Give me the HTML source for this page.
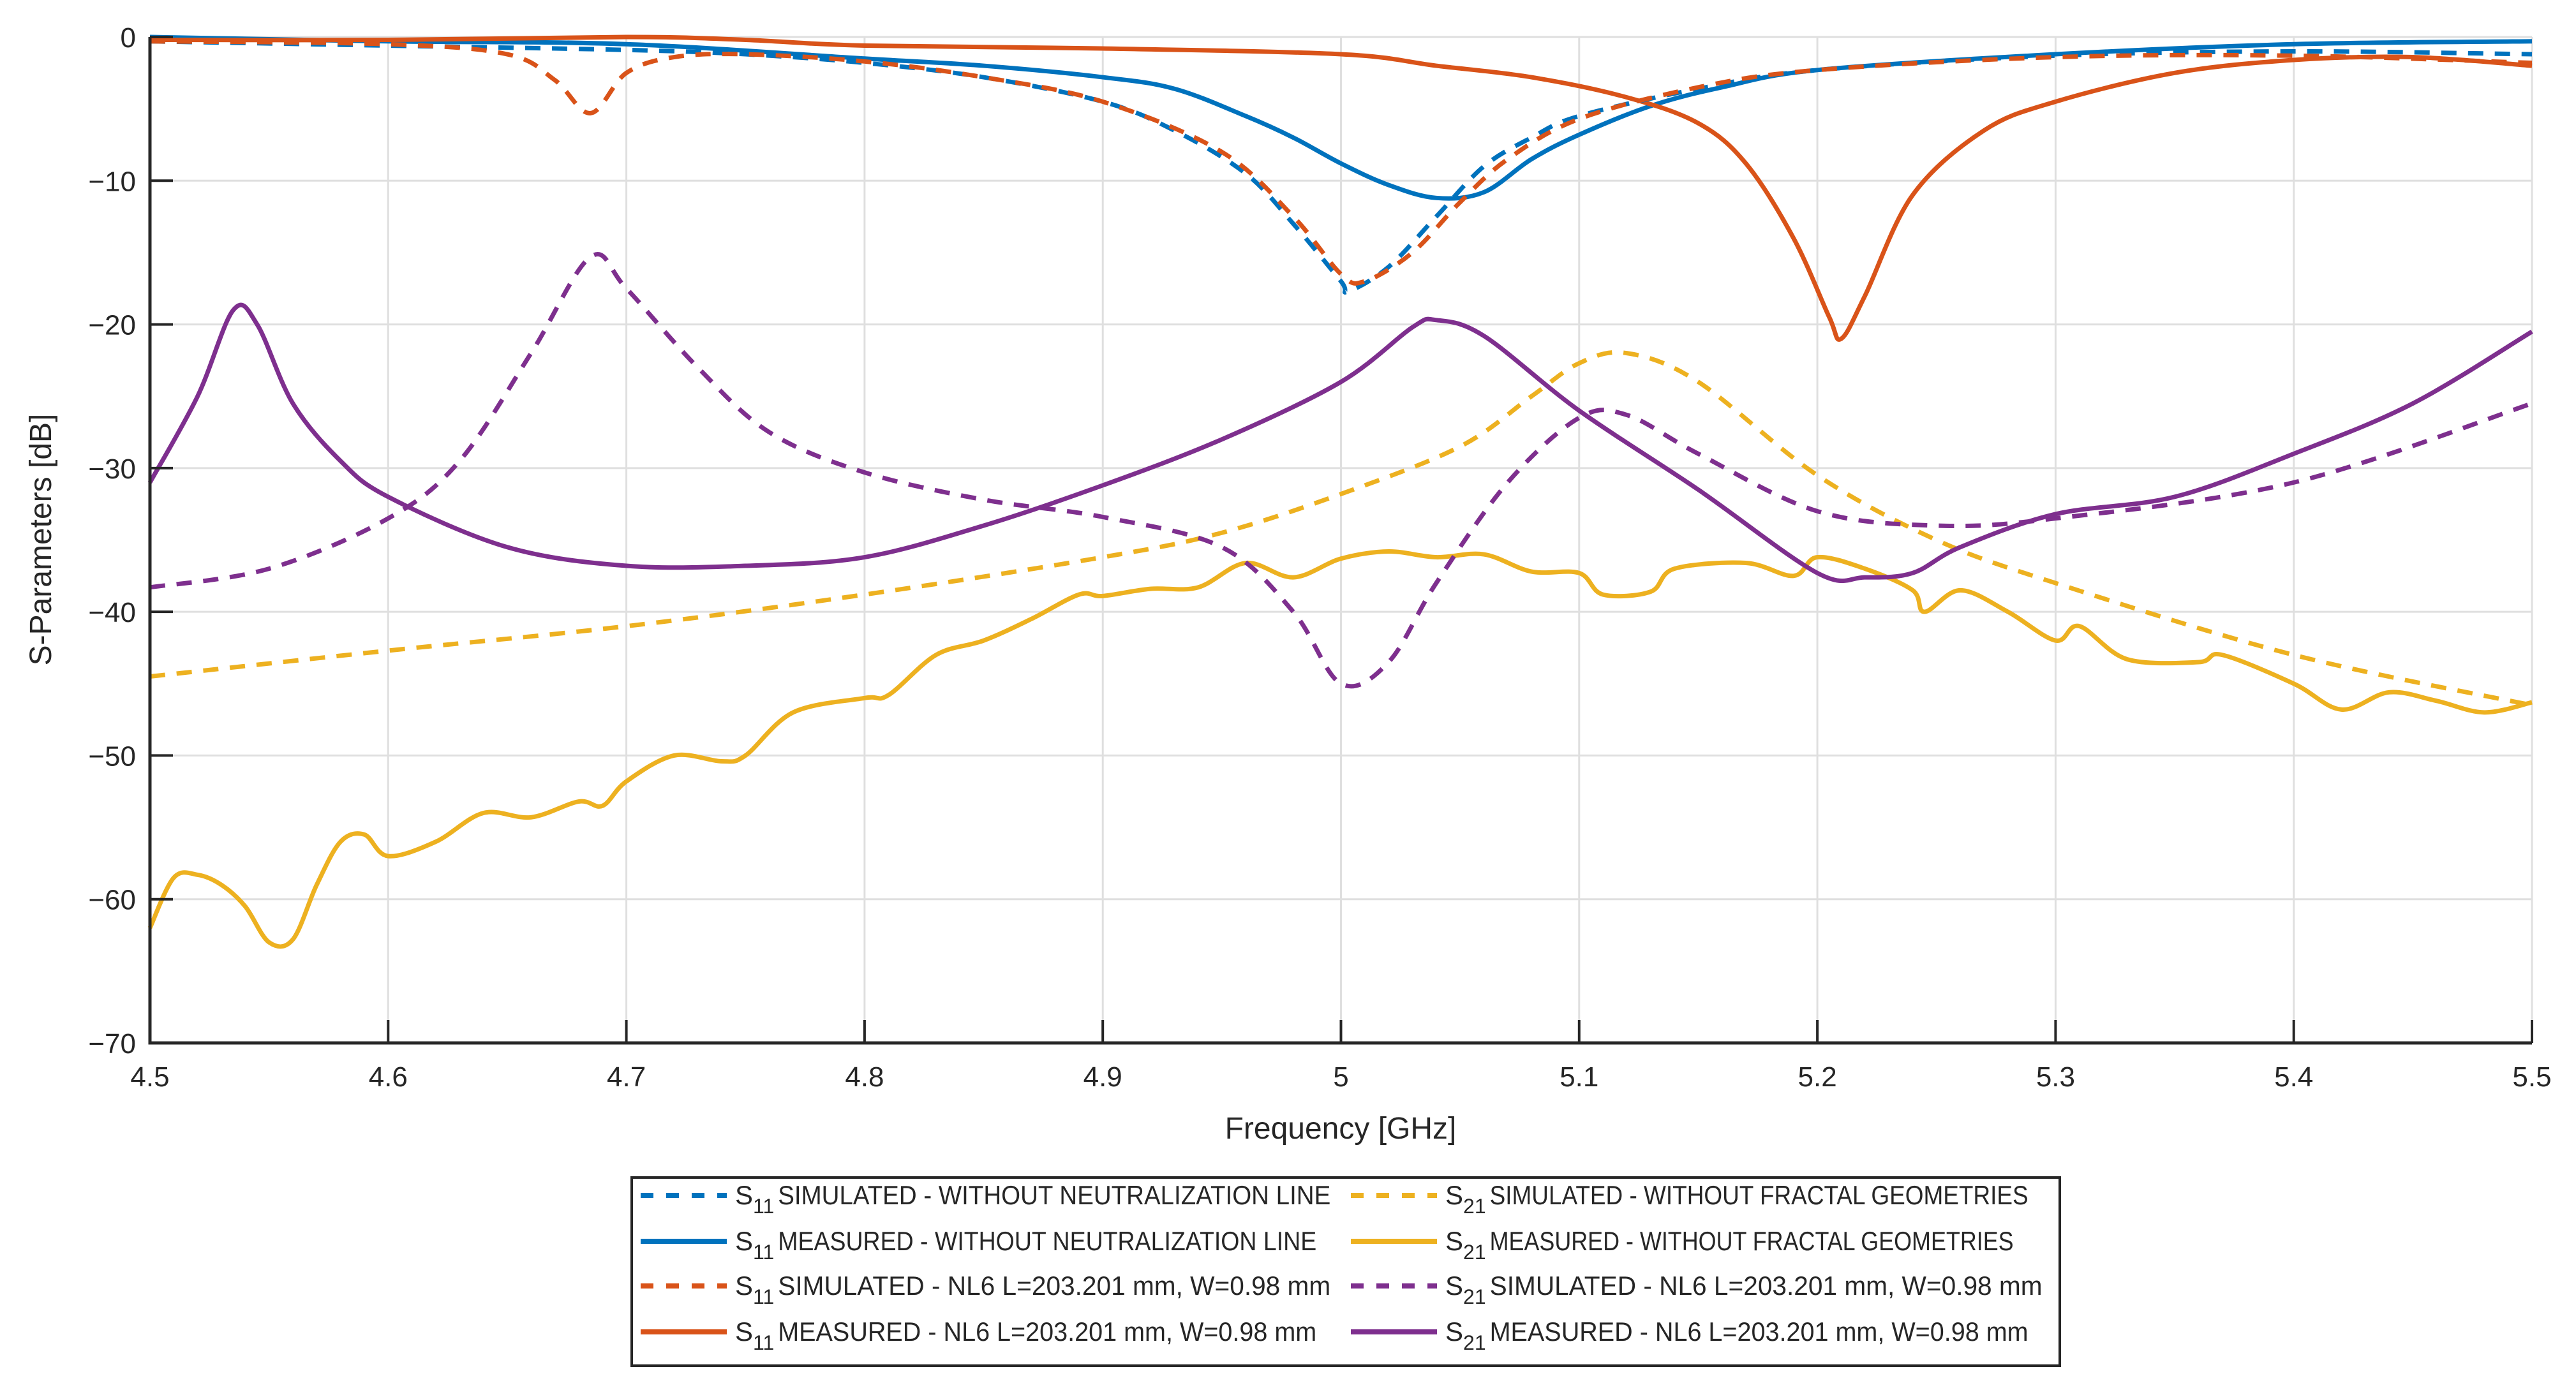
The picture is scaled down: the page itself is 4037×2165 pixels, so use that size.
<!DOCTYPE html>
<html><head><meta charset="utf-8"><style>
html,body{margin:0;padding:0;background:#fff}
svg{display:block}
text{font-family:"Liberation Sans",sans-serif;fill:#262626}
</style></head><body>
<svg id="chart" width="4037" height="2165" viewBox="0 0 4037 2165" xmlns="http://www.w3.org/2000/svg">
<g id="grid"></g>
<g id="series"></g>
<g id="axes"></g>
<text x="2101" y="1785" font-size="48" text-anchor="middle">Frequency [GHz]</text>
<text transform="translate(80,846) rotate(-90)" font-size="48" text-anchor="middle">S-Parameters [dB]</text>
<g id="legend"></g>
</svg>
<script>
const xTicks=[4.5,4.6,4.7,4.8,4.9,5,5.1,5.2,5.3,5.4,5.5];
const xTickLabels=["4.5","4.6","4.7","4.8","4.9","5","5.1","5.2","5.3","5.4","5.5"];
const yTicks=[0,-10,-20,-30,-40,-50,-60,-70];
const yTickLabels=["0","\u221210","\u221220","\u221230","\u221240","\u221250","\u221260","\u221270"];

const s11SimNoNlF=[4.5,4.6,4.7,4.75,4.8,4.85,4.9,4.93,4.96,4.98,5.0,5.003,5.02,5.04,5.06,5.08,5.1,5.15,5.2,5.3,5.4,5.5];
const s11SimNoNlV=[-0.3,-0.6,-0.9,-1.2,-1.8,-2.8,-4.5,-6.5,-9.5,-13,-17,-17.7,-16,-12.5,-9,-7,-5.5,-3.6,-2.3,-1.3,-1.0,-1.2];
const s11MeasNoNlF=[4.5,4.6,4.7,4.8,4.85,4.9,4.93,4.96,4.98,5.0,5.02,5.04,5.06,5.08,5.1,5.13,5.16,5.2,5.3,5.4,5.5];
const s11MeasNoNlV=[0,-0.3,-0.5,-1.5,-2,-2.8,-3.6,-5.5,-7,-8.8,-10.3,-11.2,-10.8,-8.5,-6.8,-4.8,-3.5,-2.3,-1.2,-0.5,-0.3];
const s11SimNl6F=[4.5,4.6,4.65,4.67,4.685,4.7,4.72,4.75,4.8,4.85,4.9,4.95,4.98,5.0,5.01,5.03,5.05,5.07,5.1,5.15,5.2,5.3,5.4,5.5];
const s11SimNl6V=[-0.3,-0.5,-1.2,-3,-5.3,-2.5,-1.4,-1.2,-1.7,-2.8,-4.5,-8,-12.5,-16.5,-17,-15,-11.5,-8.5,-5.7,-3.5,-2.3,-1.4,-1.3,-1.8];
const s11MeasNl6F=[4.5,4.6,4.7,4.75,4.8,4.9,5.0,5.04,5.08,5.12,5.15,5.17,5.19,5.205,5.21,5.22,5.24,5.27,5.3,5.35,5.4,5.45,5.5];
const s11MeasNl6V=[-0.2,-0.2,0,-0.2,-0.6,-0.8,-1.2,-2,-2.8,-4.2,-6,-8.8,-14,-19.5,-21,-18,-11,-6.5,-4.5,-2.5,-1.6,-1.4,-2];
const s21SimNoFrF=[4.5,4.6,4.7,4.8,4.9,4.95,5.0,5.05,5.08,5.1,5.12,5.15,5.2,5.25,5.3,5.4,5.5];
const s21SimNoFrV=[-44.5,-42.7,-41,-38.8,-36.2,-34.5,-31.8,-28.5,-25,-22.7,-22,-24,-30.5,-35,-38,-43,-46.5];
const s21MeasNoFrF=[4.5,4.51,4.52,4.53,4.54,4.55,4.56,4.57,4.58,4.59,4.6,4.62,4.64,4.66,4.68,4.69,4.7,4.72,4.74,4.75,4.77,4.8,4.81,4.83,4.85,4.87,4.89,4.9,4.92,4.94,4.96,4.98,5.0,5.02,5.04,5.06,5.08,5.1,5.11,5.13,5.14,5.17,5.19,5.2,5.22,5.24,5.245,5.26,5.28,5.3,5.31,5.33,5.36,5.37,5.4,5.42,5.44,5.46,5.48,5.5];
const s21MeasNoFrV=[-62,-58.5,-58.3,-59,-60.5,-63,-62.8,-59,-56,-55.5,-57,-56,-54,-54.3,-53.2,-53.5,-51.8,-50,-50.4,-50,-47,-46,-45.8,-43,-42,-40.5,-38.8,-38.9,-38.4,-38.3,-36.6,-37.6,-36.3,-35.8,-36.2,-36,-37.2,-37.3,-38.8,-38.6,-37,-36.6,-37.5,-36.2,-37,-38.5,-40,-38.5,-40,-42,-41,-43.3,-43.5,-43,-45,-46.8,-45.6,-46.2,-47,-46.3];
const s21SimNl6F=[4.5,4.55,4.6,4.63,4.66,4.685,4.7,4.73,4.76,4.8,4.85,4.9,4.95,4.98,5.0,5.02,5.04,5.07,5.1,5.12,5.15,5.2,5.25,5.3,5.4,5.5];
const s21SimNl6V=[-38.3,-37,-33.5,-29.5,-22,-15.3,-17.5,-23,-27.5,-30.3,-32.2,-33.4,-35.5,-40,-45,-43.5,-38,-31,-26.5,-26.3,-29,-33,-34,-33.5,-31,-25.5];
const s21MeasNl6F=[4.5,4.52,4.535,4.545,4.56,4.58,4.6,4.65,4.7,4.75,4.8,4.85,4.9,4.95,5.0,5.03,5.04,5.06,5.1,5.15,5.2,5.22,5.24,5.26,5.3,5.35,5.4,5.45,5.5];
const s21MeasNl6V=[-31,-25,-19,-20,-25.5,-29.5,-32,-35.5,-36.8,-36.8,-36.2,-34,-31.2,-28,-24,-20.2,-19.7,-20.8,-26,-31.5,-37.3,-37.6,-37.3,-35.5,-33.2,-32,-29,-25.5,-20.5];

const NS="http://www.w3.org/2000/svg";
const L=235,R=3968,T=58,B=1635;
const xs=f=>L+(f-4.5)/(1.0)*(R-L);
const ys=v=>T+(0-v)/70*(B-T);
function mk(tag,attrs,parent){const e=document.createElementNS(NS,tag);for(const k in attrs)e.setAttribute(k,attrs[k]);parent.appendChild(e);return e;}
const grid=document.getElementById('grid'),axes=document.getElementById('axes'),ser=document.getElementById('series'),leg=document.getElementById('legend');
mk('rect',{x:L,y:T,width:R-L,height:B-T,fill:'#fff'},grid);
xTicks.forEach((t,i)=>{
  const g=mk('line',{x1:xs(t),x2:xs(t),y1:T,y2:B,stroke:'#dfdfdf','stroke-width':3},grid);
  
  
  const tk=mk('line',{x1:xs(t),x2:xs(t),y1:B,y2:B-36,stroke:'#262626','stroke-width':4},axes);
  
  
  const tx=mk('text',{x:xs(t),y:B+68,'font-size':44,'text-anchor':'middle'},axes);
  tx.textContent=xTickLabels[i];
  
  
});
yTicks.forEach((t,i)=>{
  const g=mk('line',{x1:L,x2:R,y1:ys(t),y2:ys(t),stroke:'#dfdfdf','stroke-width':3},grid);
  
  
  const tk=mk('line',{x1:L,x2:L+36,y1:ys(t),y2:ys(t),stroke:'#262626','stroke-width':4},axes);
  
  
  const tx=mk('text',{x:L-22,y:ys(t)+16,'font-size':44,'text-anchor':'end'},axes);
  tx.textContent=yTickLabels[i];
  
  
});
const ax=mk('path',{d:`M${L},${T}V${B}H${R}`,fill:'none',stroke:'#262626','stroke-width':5},axes);



const C={b:'#0072BD',o:'#D95319',y:'#EDB120',p:'#7E2F8E'};
const series=[
 [s21SimNoFrF,s21SimNoFrV,C.y,true,'s21-simulated-without-fractal'],
 [s21MeasNoFrF,s21MeasNoFrV,C.y,false,'s21-measured-without-fractal'],
 [s21SimNl6F,s21SimNl6V,C.p,true,'s21-simulated-nl6'],
 [s21MeasNl6F,s21MeasNl6V,C.p,false,'s21-measured-nl6'],
 [s11MeasNoNlF,s11MeasNoNlV,C.b,false,'s11-measured-without-nl'],
 [s11MeasNl6F,s11MeasNl6V,C.o,false,'s11-measured-nl6'],
 [s11SimNoNlF,s11SimNoNlV,C.b,true,'s11-simulated-without-nl'],
 [s11SimNl6F,s11SimNl6V,C.o,true,'s11-simulated-nl6'],
];
function smooth(pts){
  let d=`M${pts[0][0]},${pts[0][1]}`;
  for(let i=0;i<pts.length-1;i++){
    const p0=pts[Math.max(0,i-1)],p1=pts[i],p2=pts[i+1],p3=pts[Math.min(pts.length-1,i+2)];
    const c1=[p1[0]+(p2[0]-p0[0])/6,p1[1]+(p2[1]-p0[1])/6];
    const c2=[p2[0]-(p3[0]-p1[0])/6,p2[1]-(p3[1]-p1[1])/6];
    d+=`C${c1[0]},${c1[1]} ${c2[0]},${c2[1]} ${p2[0]},${p2[1]}`;
  }
  return d;
}
series.forEach(s=>{
  const pts=s[0].map((f,i)=>[xs(f),ys(s[1][i])]);
  const a={d:smooth(pts),fill:'none',stroke:s[2],'stroke-width':7,'stroke-linejoin':'round'};
  if(s[3])a['stroke-dasharray']='24 18';
  const p=mk('path',a,ser);
  
  
});

// legend
const lb=mk('rect',{x:990,y:1846,width:2238,height:295,fill:'#fff',stroke:'#262626','stroke-width':4},leg);


const legItems=[
 [1004,1874,C.b,true,'SIMULATED - WITHOUT NEUTRALIZATION LINE','11'],
 [1004,1946,C.b,false,'MEASURED - WITHOUT NEUTRALIZATION LINE','11'],
 [1004,2016,C.o,true,'SIMULATED - NL6 L=203.201 mm, W=0.98 mm','11'],
 [1004,2088,C.o,false,'MEASURED - NL6 L=203.201 mm, W=0.98 mm','11'],
 [2117,1874,C.y,true,'SIMULATED - WITHOUT FRACTAL GEOMETRIES','21'],
 [2117,1946,C.y,false,'MEASURED - WITHOUT FRACTAL GEOMETRIES','21'],
 [2117,2016,C.p,true,'SIMULATED - NL6 L=203.201 mm, W=0.98 mm','21'],
 [2117,2088,C.p,false,'MEASURED - NL6 L=203.201 mm, W=0.98 mm','21'],
];
legItems.forEach(it=>{
  const a={x1:it[0],x2:it[0]+135,y1:it[1],y2:it[1],stroke:it[2],'stroke-width':8};
  if(it[3])a['stroke-dasharray']='20 20';
  const ln=mk('line',a,leg);
  
  
  const t=mk('text',{x:it[0]+148,y:it[1]+14,'font-size':42},leg);
  
  
  const s=mk('tspan',{},t);s.textContent='S';
  const sub=mk('tspan',{dy:14,'font-size':32},t);sub.textContent=it[5];
  const rest=mk('tspan',{dy:-14,dx:6,textLength:(it[4].length*22.2).toFixed(0),lengthAdjust:'spacingAndGlyphs'},t);rest.textContent=it[4];
});
</script>
</body></html>
